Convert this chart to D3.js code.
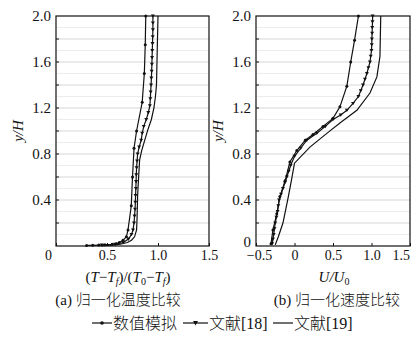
<!DOCTYPE html>
<html><head><meta charset="utf-8">
<script src="https://cdn.jsdelivr.net/npm/d3@7"></script>
<style>
html,body{margin:0;padding:0;background:#fff;}
svg{display:block;}
svg text{font-family:"Liberation Serif","DejaVu Serif",serif;fill:#111;}
svg text .cjk, svg text.cjk{font-family:"Noto Sans CJK SC",sans-serif;font-weight:300;}
</style></head>
<body>
<svg id="c" width="411" height="338"></svg>
<script>
// ---------- data ----------
// (a) normalized temperature
const tSimY = [2.0,1.75,1.5,1.25,1.0,0.85,0.6,0.35,0.14,0.08,0.05,0.03,0.02,0.015,0.01,0.008,0.006,0.005];
const tSimX = [0.88,0.875,0.866,0.845,0.79,0.765,0.75,0.738,0.706,0.69,0.657,0.62,0.59,0.55,0.48,0.42,0.36,0.3];
const tLit18Y = [2.0,1.94,1.88,1.82,1.76,1.7,1.64,1.58,1.52,1.46,1.4,1.34,1.28,1.22,1.16,1.1,1.04,0.98,0.92,0.86,0.8,0.74,0.68,0.62,0.56,0.5,0.44,0.38,0.32,0.26,0.2,0.14,0.1,0.06,0.03,0.015,0.008];
const tLit18X = [0.95,0.95,0.95,0.948,0.946,0.944,0.942,0.94,0.938,0.935,0.932,0.928,0.925,0.92,0.905,0.885,0.86,0.845,0.835,0.815,0.80,0.795,0.79,0.787,0.785,0.783,0.78,0.778,0.775,0.77,0.765,0.755,0.74,0.71,0.66,0.58,0.45];
const tLit19Y = [2.0,1.6,1.4,1.3,1.2,1.1,1.01,0.92,0.83,0.75,0.6,0.43,0.25,0.14,0.08,0.05,0.03,0.015,0.008,0.004];
const tLit19X = [1.0,0.99,0.985,0.975,0.96,0.935,0.90,0.87,0.84,0.82,0.81,0.80,0.795,0.79,0.77,0.74,0.70,0.63,0.55,0.45];
// (b) normalized velocity
const uSimY = [2.0,1.79,1.6,1.39,1.21,1.11,1.04,0.97,0.92,0.83,0.73,0.57,0.43,0.28,0.14,0.02];
const uSimX = [0.83,0.78,0.73,0.68,0.59,0.50,0.37,0.24,0.14,0.03,-0.06,-0.12,-0.19,-0.23,-0.28,-0.305];
const uLit18Y = [2.0,1.95,1.9,1.85,1.8,1.75,1.7,1.65,1.6,1.55,1.5,1.45,1.4,1.35,1.3,1.24,1.18,1.14,1.1,1.04,0.98,0.92,0.85,0.78,0.7,0.65,0.6,0.55,0.5,0.45,0.4,0.35,0.3,0.25,0.2,0.15,0.1,0.06,0.02];
const uLit18X = [1.015,1.013,1.01,1.008,1.005,1.003,1.0,0.99,0.98,0.96,0.94,0.915,0.89,0.86,0.83,0.76,0.68,0.6,0.5,0.4,0.29,0.16,0.08,0.0,-0.05,-0.075,-0.1,-0.125,-0.15,-0.175,-0.2,-0.21,-0.22,-0.235,-0.25,-0.26,-0.27,-0.28,-0.29];
const uLit19Y = [2.0,1.65,1.47,1.33,1.18,1.07,0.99,0.86,0.72,0.57,0.43,0.2,0.08,0.01];
const uLit19X = [1.12,1.11,1.07,0.98,0.81,0.59,0.44,0.2,0.0,-0.04,-0.08,-0.15,-0.21,-0.25];
const yTicks = [0,0.4,0.8,1.2,1.6,2.0];
const xTicksA = [0,0.5,1.0,1.5];
const xTicksB = [-0.5,0,0.5,1.0,1.5];
const legendLabels = ["数值模拟","文献[18]","文献[19]"];

const svg = d3.select("#c");
const ink = "#111";
const SERIF = '"Liberation Serif","DejaVu Serif",serif';

function panel(x0,x1,xDom,xTicks,series,xt){
  const x = d3.scaleLinear().domain(xDom).range([x0,x1]);
  const y = d3.scaleLinear().domain([0,2]).range([246,16]);
  const g = svg.append("g");
  d3.range(1,20).forEach(i=>{
    const v=i/10;
    g.append("line").attr("x1",x0+1).attr("x2",x1).attr("y1",y(v)).attr("y2",y(v))
     .attr("stroke", i%2===0 ? "#d6d6d6" : "#ececec").attr("stroke-width",1);
  });
  d3.range(1,10).forEach(i=>{
    g.append("line").attr("x1",x0).attr("x2",x0+3).attr("y1",y(i*0.2)).attr("y2",y(i*0.2)).attr("stroke",ink);
  });
  g.append("rect").attr("x",x0).attr("y",16).attr("width",x1-x0).attr("height",230)
   .attr("fill","none").attr("stroke",ink).attr("stroke-width",1.2);
  const ya = d3.axisLeft(y).tickValues(yTicks).tickSize(0).tickPadding(5)
     .tickFormat(d=> d===0 ? "0" : d3.format(".1f")(d));
  const yg = g.append("g").attr("transform",`translate(${x0},0)`).call(ya);
  yg.attr("font-family",SERIF);
  yg.select(".domain").remove();
  yg.selectAll("text").attr("font-size",15).attr("fill",ink);
  if (xt==="a") yg.selectAll(".tick").filter(d=>d===0).remove();
  else yg.selectAll(".tick").filter(d=>d===0).select("text").attr("dy","0.05em");
  const xa = d3.axisBottom(x).tickValues(xTicks).tickSize(-3).tickPadding(4)
     .tickFormat(d=> d===0 ? "0" : (d<0 ? "\u22120.5" : d3.format(".1f")(d)));
  const xg = g.append("g").attr("transform","translate(0,246)").call(xa);
  xg.attr("font-family",SERIF);
  xg.select(".domain").remove();
  xg.selectAll("line").attr("stroke",ink);
  xg.selectAll("text").attr("font-size",14).attr("fill",ink);
  if (xt==="a") xg.selectAll(".tick").filter(d=>d===0).select("text").attr("dx",-8);
  if (xt==="b") {
    xg.selectAll(".tick").filter(d=>d===1.5).select("text").attr("text-anchor","end").attr("dx",-154+153.5);
    xg.selectAll(".tick").filter(d=>d===-0.5).select("text").attr("dx",3);
  }
  g.append("text").attr("transform",`translate(${x0-33},131) rotate(-90)`).attr("text-anchor","middle")
   .attr("font-size",15).attr("font-style","italic").text("y/H");
  const line = d3.line().x(d=>x(d[0])).y(d=>y(d[1]));
  series.forEach((s,k)=>{
    const pts = s.xs.map((v,i)=>[v,s.ys[i]]);
    g.append("path").attr("d",line(pts)).attr("fill","none").attr("stroke",ink).attr("stroke-width",1.2);
    if (k===0){
      g.selectAll(null).data(pts).enter().append("circle")
       .attr("cx",d=>x(d[0])).attr("cy",d=>y(d[1])).attr("r",1.5).attr("fill",ink);
    } else if (k===1){
      g.selectAll(null).data(pts).enter().append("path")
       .attr("d",d=>`M${x(d[0])-2},${y(d[1])-1.5}L${x(d[0])+2},${y(d[1])-1.5}L${x(d[0])},${y(d[1])+1.8}Z`).attr("fill",ink);
    }
  });
}

panel(56,209,[0,1.5],xTicksA,[
  {xs:tSimX,ys:tSimY},{xs:tLit18X,ys:tLit18Y},{xs:tLit19X,ys:tLit19Y}],"a");
panel(256,410,[-0.5,1.5],xTicksB,[
  {xs:uSimX,ys:uSimY},{xs:uLit18X,ys:uLit18Y},{xs:uLit19X,ys:uLit19Y}],"b");

const tA = svg.append("text").attr("x",128).attr("y",282).attr("text-anchor","middle").attr("font-size",15);
tA.append("tspan").text("(");
tA.append("tspan").attr("font-style","italic").text("T");
tA.append("tspan").text("\u2212");
tA.append("tspan").attr("font-style","italic").text("T");
tA.append("tspan").attr("font-style","italic").attr("font-size",10).attr("dy",3).text("f");
tA.append("tspan").attr("dy",-3).text(")/(");
tA.append("tspan").attr("font-style","italic").text("T");
tA.append("tspan").attr("font-size",10).attr("dy",3).text("0");
tA.append("tspan").attr("dy",-3).text("\u2212");
tA.append("tspan").attr("font-style","italic").text("T");
tA.append("tspan").attr("font-style","italic").attr("font-size",10).attr("dy",3).text("f");
tA.append("tspan").attr("dy",-3).text(")");
const tB = svg.append("text").attr("x",334).attr("y",282).attr("text-anchor","middle").attr("font-size",15).attr("font-style","italic");
tB.append("tspan").text("U/U");
tB.append("tspan").attr("font-size",10).attr("font-style","normal").attr("dy",3).text("0");

function caption(cx,tag,txt){
  const t = svg.append("text").attr("x",cx).attr("y",305).attr("text-anchor","middle").attr("font-size",15);
  t.append("tspan").text(tag+" ");
  t.append("tspan").attr("class","cjk").text(txt);
}
caption(118,"(a)","归一化温度比较");
caption(337,"(b)","归一化速度比较");

const ly = 323;
const lg = svg.append("g");
[[92,112,0,113],[183,208,1,209],[273,293,2,294]].forEach(([a,b,k,tx])=>{
  lg.append("line").attr("x1",a).attr("x2",b).attr("y1",ly).attr("y2",ly).attr("stroke",ink).attr("stroke-width",1.2);
  const m=(a+b)/2;
  if(k===0) lg.append("circle").attr("cx",m).attr("cy",ly).attr("r",1.8).attr("fill",ink);
  if(k===1) lg.append("path").attr("d",`M${m-2.5},${ly-2}L${m+2.5},${ly-2}L${m},${ly+2.5}Z`).attr("fill",ink);
  const t = lg.append("text").attr("x",tx).attr("y",ly+5.5).attr("font-size",16);
  const lab = legendLabels[k];
  if(k===0) t.attr("class","cjk").text(lab);
  else { t.append("tspan").attr("class","cjk").text(lab.slice(0,2)); t.append("tspan").text(lab.slice(2)); }
});
</script>
</body></html>
